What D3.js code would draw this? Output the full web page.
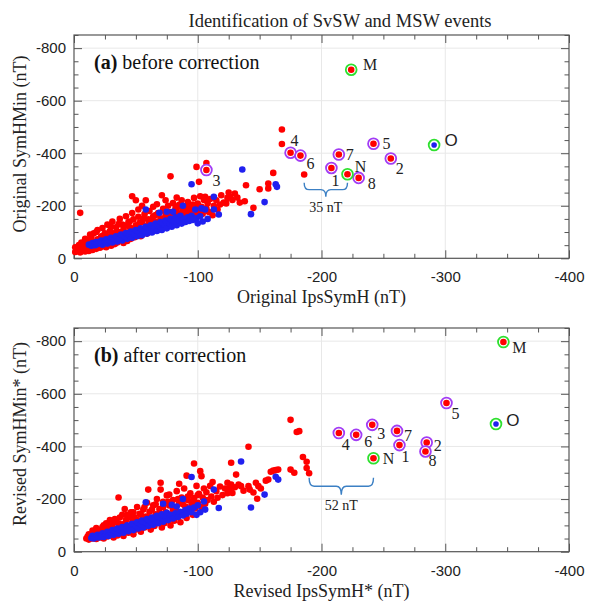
<!DOCTYPE html>
<html>
<head>
<meta charset="utf-8">
<script src="https://cdn.jsdelivr.net/npm/d3@7"></script>
<style>
  body { margin: 0; background: #fff; }
  svg { display: block; }
</style>
</head>
<body>
<svg id="chart" width="589" height="603"></svg>
<script>
// Tick labels
const xTicks = [0, -100, -200, -300, -400];
const yTicks = [0, -200, -400, -600, -800];

// Panel (a): all storms before correction, [IpsSymH, SymHMin]
const aRed = [
  [-1,-24],[-2,-32],[-1,-42],[-3,-28],[-4,-50],[-3,-36],[-5,-22],[-6,-44],[-5,-173],[-7,-30],
  [-8,-58],[-8,-38],[-9,-26],[-10,-48],[-11,-66],[-11,-34],[-12,-28],[-13,-56],[-14,-78],[-14,-40],
  [-15,-32],[-16,-62],[-16,-95],[-17,-46],[-18,-36],[-19,-72],[-19,-108],[-20,-52],[-21,-40],[-22,-84],
  [-22,-62],[-23,-115],[-24,-46],[-25,-95],[-25,-70],[-26,-42],[-27,-128],[-28,-56],[-28,-82],[-29,-104],
  [-30,-48],[-31,-66],[-31,-140],[-32,-92],[-33,-54],[-34,-118],[-34,-76],[-35,-60],[-36,-100],[-37,-150],
  [-37,-68],[-38,-86],[-39,-128],[-40,-58],[-40,-110],[-41,-76],[-42,-96],[-42,-160],[-43,-66],[-44,-138],
  [-45,-88],[-45,-118],[-46,-74],[-47,-236],[-47,-172],[-48,-104],[-48,-148],[-49,-80],[-50,-221],[-50,-126],
  [-51,-92],[-52,-186],[-52,-158],[-53,-112],[-54,-84],[-55,-138],[-55,-200],[-56,-98],[-57,-168],[-58,-221],
  [-58,-120],[-59,-94],[-60,-148],[-61,-180],[-61,-108],[-62,-130],[-63,-102],[-64,-196],[-64,-160],[-65,-118],
  [-66,-140],[-67,-206],[-67,-108],[-68,-172],[-69,-126],[-70,-152],[-71,-240],[-71,-118],[-72,-188],[-73,-136],
  [-74,-221],[-74,-164],[-75,-128],[-76,-200],[-77,-146],[-78,-312],[-78,-176],[-79,-138],[-80,-210],[-81,-156],
  [-82,-190],[-83,-231],[-83,-148],[-84,-172],[-85,-204],[-86,-160],[-87,-221],[-88,-182],[-89,-150],[-90,-196],
  [-91,-166],[-92,-214],[-93,-176],[-94,-160],[-95,-200],[-96,-186],[-97,-230],[-98,-170],[-99,-348],[-100,-208],
  [-101,-291],[-101,-180],[-102,-236],[-103,-196],[-104,-170],[-105,-222],[-106,-234],[-107,-363],[-107,-190],[-108,-210],
  [-109,-176],[-110,-226],[-112,-164],[-113,-200],[-115,-221],[-116,-186],[-118,-205],[-119,-240],[-121,-212],[-123,-209],
  [-124,-230],[-125,-250],[-126,-234],[-128,-222],[-130,-246],[-132,-231],[-134,-212],[-138,-217],[-139,-278],[-145,-192],
  [-150,-263],[-157,-266],[-157,-285],[-161,-325],[-168,-435],[-168,-490],[-186,-319],
  [-6,-60],[-9,-74],[-13,-90],[-18,-100],[-20,-70],[-24,-88],[-27,-76],[-30,-120],[-33,-96],[-36,-130],
  [-39,-100],[-42,-125],[-45,-140],[-49,-115],[-53,-135],[-56,-150],[-60,-128],[-63,-145],[-66,-165],[-70,-135],
  [-73,-180],[-77,-160],[-80,-170],[-84,-195],[-88,-165],[-92,-190],[-96,-205],[-100,-195]
];
const aBlue = [
  [-12,-52],[-14,-48],[-15,-58],[-17,-50],[-18,-62],[-19,-54],[-21,-58],[-22,-68],[-23,-52],[-25,-62],
  [-26,-72],[-27,-56],[-29,-66],[-30,-78],[-31,-60],[-33,-72],[-34,-84],[-35,-64],[-37,-76],[-38,-90],
  [-39,-68],[-41,-82],[-42,-96],[-43,-74],[-45,-88],[-46,-102],[-47,-78],[-49,-92],[-50,-108],[-51,-84],
  [-53,-98],[-54,-114],[-55,-88],[-57,-104],[-58,-186],[-58,-120],[-59,-94],[-61,-110],[-62,-126],[-63,-98],
  [-65,-116],[-66,-132],[-67,-104],[-69,-173],[-69,-122],[-70,-138],[-71,-108],[-73,-128],[-74,-144],[-75,-177],
  [-75,-114],[-77,-134],[-78,-150],[-79,-120],[-80,-177],[-81,-140],[-82,-156],[-83,-126],[-85,-146],[-86,-162],
  [-87,-132],[-88,-200],[-89,-150],[-90,-138],[-92,-156],[-93,-142],[-95,-282],[-95,-162],[-96,-146],[-98,-186],
  [-99,-152],[-100,-133],[-102,-160],[-103,-190],[-104,-140],[-106,-186],[-108,-150],[-113,-234],[-113,-186],[-117,-167],
  [-136,-338],[-143,-168],[-154,-214],[-163,-282],[-164,-272]
];

// Panel (b): all storms after correction
const bRed = [
  [-10,-50],[-11,-58],[-12,-46],[-13,-54],[-14,-64],[-15,-50],[-16,-72],[-17,-56],[-18,-48],[-19,-66],
  [-20,-82],[-21,-54],[-22,-62],[-23,-94],[-24,-50],[-25,-74],[-26,-108],[-27,-58],[-28,-86],[-29,-120],
  [-30,-64],[-31,-96],[-32,-54],[-33,-78],[-34,-112],[-35,-62],[-36,-206],[-36,-90],[-37,-130],[-38,-70],
  [-39,-104],[-40,-60],[-41,-162],[-41,-82],[-42,-120],[-43,-140],[-44,-72],[-45,-96],[-46,-150],[-47,-110],
  [-48,-66],[-49,-130],[-50,-84],[-51,-170],[-52,-100],[-53,-144],[-54,-76],[-55,-118],[-56,-160],[-57,-92],
  [-58,-134],[-59,-186],[-60,-236],[-60,-108],[-61,-152],[-62,-84],[-63,-124],[-64,-176],[-65,-98],[-66,-142],
  [-67,-200],[-68,-114],[-69,-162],[-70,-262],[-70,-236],[-71,-92],[-71,-132],[-72,-190],[-73,-108],[-74,-150],
  [-75,-214],[-76,-124],[-77,-176],[-77,-217],[-78,-100],[-79,-142],[-80,-196],[-81,-118],[-82,-162],[-83,-230],
  [-84,-134],[-85,-258],[-85,-184],[-86,-112],[-87,-206],[-88,-150],[-89,-240],[-90,-172],[-91,-289],[-91,-128],
  [-92,-196],[-93,-156],[-94,-222],[-95,-180],[-96,-140],[-97,-335],[-97,-204],[-98,-164],[-99,-250],[-100,-186],
  [-101,-220],[-102,-306],[-103,-287],[-103,-170],[-104,-206],[-105,-240],[-106,-182],[-107,-226],[-108,-196],[-110,-250],
  [-111,-210],[-112,-265],[-113,-190],[-115,-230],[-116,-205],[-118,-248],[-120,-215],[-122,-240],[-124,-222],[-124,-262],
  [-126,-242],[-127,-338],[-127,-255],[-128,-223],[-130,-245],[-131,-293],[-133,-255],[-135,-249],[-137,-232],[-141,-399],
  [-141,-249],[-142,-236],[-145,-225],[-147,-262],[-148,-201],[-149,-249],[-151,-240],[-155,-270],[-157,-274],[-159,-304],
  [-161,-308],[-163,-310],[-165,-312],[-175,-501],[-175,-312],[-178,-300],[-180,-455],[-182,-458],[-185,-360],[-188,-342],
  [-188,-318],[-190,-298],
  [-12,-66],[-15,-80],[-18,-90],[-21,-76],[-24,-100],[-27,-90],[-30,-110],[-33,-124],[-36,-108],[-39,-140],
  [-42,-100],[-45,-130],[-48,-150],[-51,-120],[-54,-140],[-57,-170],[-60,-130],[-63,-160],[-66,-180],[-69,-145],
  [-72,-170],[-76,-190],[-80,-160],[-84,-200],[-88,-180],[-92,-210],[-96,-190],[-100,-215]
];
const bBlue = [
  [-14,-52],[-15,-60],[-16,-50],[-18,-56],[-19,-64],[-20,-54],[-22,-60],[-23,-70],[-24,-56],[-26,-66],
  [-27,-76],[-28,-60],[-30,-70],[-31,-82],[-32,-64],[-34,-76],[-35,-88],[-36,-68],[-38,-80],[-39,-94],
  [-40,-72],[-42,-86],[-43,-100],[-44,-78],[-46,-92],[-47,-106],[-48,-82],[-50,-98],[-51,-112],[-52,-88],
  [-54,-104],[-55,-118],[-56,-92],[-58,-188],[-58,-110],[-59,-124],[-60,-98],[-62,-116],[-63,-130],[-64,-102],
  [-66,-122],[-67,-136],[-68,-108],[-70,-128],[-71,-142],[-72,-182],[-72,-114],[-74,-134],[-75,-148],[-76,-120],
  [-78,-140],[-79,-178],[-80,-126],[-82,-146],[-83,-172],[-84,-132],[-86,-152],[-88,-200],[-88,-138],[-90,-158],
  [-91,-144],[-93,-164],[-95,-284],[-95,-150],[-97,-168],[-99,-140],[-100,-176],[-102,-150],[-105,-191],[-106,-160],
  [-113,-236],[-117,-166],[-135,-343],[-143,-168],[-154,-217],[-163,-285],[-165,-274]
];

// Identified SvSW (1-8) and MSW (M, N, O) events
const eventIds = ['1', '2', '3', '4', '5', '6', '7', '8', 'M', 'N', 'O'];
const eventKind = ['SvSW', 'SvSW', 'SvSW', 'SvSW', 'SvSW', 'SvSW', 'SvSW', 'SvSW', 'MSW', 'MSW', 'MSW'];
const eventDot = ['red', 'red', 'red', 'red', 'red', 'red', 'red', 'red', 'red', 'red', 'blue'];
const aEventX = [-208, -256, -107, -175, -242, -183, -214, -230, -224, -221, -291];
const aEventY = [-344, -380, -336, -402, -436, -391, -395, -306, -718, -320, -431];
const bEventX = [-263, -285, -241, -214, -301, -228, -261, -284, -347, -242, -341];
const bEventY = [-405, -415, -482, -451, -565, -444, -459, -381, -797, -355, -485];

// Gap between the strongest unidentified storm and event N
const aGap = { from: -186, to: -221, at: -288, text: '35 nT' };
const bGap = { from: -190, to: -242, at: -281, text: '52 nT' };

// Label offsets in pixels (layout only)
const aLabelOffset = {
  '1': [4, 13], '2': [9, 10], '3': [10, 10], '4': [4, -12], '5': [13, 0], '6': [10, 8],
  '7': [11, 0], '8': [13, 6], 'M': [19, -5], 'N': [13, -8], 'O': [17, -5],
};
const bLabelOffset = {
  '1': [6, 11], '2': [11, 3], '3': [9, 9], '4': [7, 11], '5': [9, 10], '6': [12, 7],
  '7': [11, 5], '8': [7, 9], 'M': [16, 6], 'N': [15, 0], 'O': [17, -4],
};

const colors = { red: '#ff0000', blue: '#2020f0', SvSW: '#a23cf5', MSW: '#2ee02e', brace: '#3c80c4' };
const serif = '"Liberation Serif", "Times New Roman", serif';
const sans = '"Liberation Sans", Arial, sans-serif';

const svg = d3.select('#chart');
const margin = { left: 74, right: 569 };

function drawPanel(opt) {
  const x = d3.scaleLinear().domain([0, -400]).range([margin.left, margin.right]);
  const y = d3.scaleLinear().domain([0, -850]).range([opt.bottom, opt.top]);
  const g = svg.append('g');
  const h = opt.bottom - opt.top;
  const w = margin.right - margin.left;

  // Grid lines at major ticks
  g.selectAll('.vgrid').data(xTicks.slice(1, -1)).enter().append('line')
    .attr('x1', (d) => x(d)).attr('x2', (d) => x(d))
    .attr('y1', opt.top).attr('y2', opt.bottom)
    .attr('stroke', '#e8e8e8').attr('stroke-width', 1);
  g.selectAll('.hgrid').data(yTicks.slice(1)).enter().append('line')
    .attr('x1', margin.left).attr('x2', margin.right)
    .attr('y1', (d) => y(d)).attr('y2', (d) => y(d))
    .attr('stroke', '#e8e8e8').attr('stroke-width', 1);

  // Minor ticks (every 25 nT on x, 50 nT on y), all four sides, pointing in
  const xMinor = d3.range(0, -401, -25).filter((d) => d % 100 !== 0);
  const yMinor = d3.range(0, -851, -50).filter((d) => d % 200 !== 0);
  const noLabel = () => '';
  const axes = [
    [d3.axisBottom(x), `translate(0,${opt.bottom})`, xMinor],
    [d3.axisTop(x), `translate(0,${opt.top})`, xMinor],
    [d3.axisLeft(y), `translate(${margin.left},0)`, yMinor],
    [d3.axisRight(y), `translate(${margin.right},0)`, yMinor],
  ];
  axes.forEach(([ax, tr, vals]) => {
    g.append('g').attr('transform', tr)
      .call(ax.tickValues(vals).tickSize(-4.5).tickFormat(noLabel))
      .call((s) => s.select('.domain').remove())
      .selectAll('line').attr('stroke', '#555');
  });

  // Major ticks with labels on bottom and left
  g.append('g').attr('transform', `translate(0,${opt.bottom})`)
    .call(d3.axisBottom(x).tickValues(xTicks).tickSize(-8).tickPadding(13.5).tickFormat((d) => String(d)))
    .call((s) => s.select('.domain').remove())
    .call((s) => s.selectAll('line').attr('stroke', '#555'))
    .call((s) => s.selectAll('text').attr('fill', '#222').style('font', `15px ${sans}`));
  g.append('g').attr('transform', `translate(0,${opt.top})`)
    .call(d3.axisTop(x).tickValues(xTicks).tickSize(-8).tickFormat(noLabel))
    .call((s) => s.select('.domain').remove())
    .selectAll('line').attr('stroke', '#555');
  g.append('g').attr('transform', `translate(${margin.left},0)`)
    .call(d3.axisLeft(y).tickValues(yTicks).tickSize(-8).tickPadding(8).tickFormat((d) => String(d)))
    .call((s) => s.select('.domain').remove())
    .call((s) => s.selectAll('line').attr('stroke', '#555'))
    .call((s) => s.selectAll('text').attr('fill', '#222').style('font', `15px ${sans}`));
  g.append('g').attr('transform', `translate(${margin.right},0)`)
    .call(d3.axisRight(y).tickValues(yTicks).tickSize(-8).tickFormat(noLabel))
    .call((s) => s.select('.domain').remove())
    .selectAll('line').attr('stroke', '#555');

  // Box
  g.append('rect')
    .attr('x', margin.left).attr('y', opt.top)
    .attr('width', w).attr('height', h)
    .attr('fill', 'none').attr('stroke', '#555').attr('stroke-width', 1.2);

  // All storms: red first, blue on top
  g.append('g').selectAll('circle').data(opt.red).enter().append('circle')
    .attr('cx', (d) => x(d[0])).attr('cy', (d) => y(d[1])).attr('r', 3.3)
    .attr('fill', colors.red);
  g.append('g').selectAll('circle').data(opt.blue).enter().append('circle')
    .attr('cx', (d) => x(d[0])).attr('cy', (d) => y(d[1])).attr('r', 3.3)
    .attr('fill', colors.blue);

  // Identified events: ring + dot + label
  const events = eventIds.map((id, i) => ({
    id, kind: eventKind[i], dot: eventDot[i], x: opt.ex[i], y: opt.ey[i],
  }));
  const ev = g.append('g').selectAll('g').data(events).enter().append('g');
  ev.append('circle')
    .attr('cx', (d) => x(d.x)).attr('cy', (d) => y(d.y)).attr('r', 5.4)
    .attr('fill', '#fff').attr('stroke', (d) => colors[d.kind]).attr('stroke-width', 1.8);
  ev.append('circle')
    .attr('cx', (d) => x(d.x)).attr('cy', (d) => y(d.y)).attr('r', (d) => (d.dot === 'blue' ? 2.8 : 3.3))
    .attr('fill', (d) => colors[d.dot]);
  ev.append('text')
    .attr('x', (d) => x(d.x) + opt.offsets[d.id][0])
    .attr('y', (d) => y(d.y) + opt.offsets[d.id][1])
    .attr('text-anchor', 'middle').attr('dominant-baseline', 'central')
    .attr('fill', '#222')
    .style('font', (d) => (d.id === 'O' ? `17px ${sans}` : `16px ${serif}`))
    .text((d) => d.id);

  // Curly brace marking the gap
  const bx0 = x(opt.gap.from);
  const bx1 = x(opt.gap.to);
  const by = y(opt.gap.at);
  const bh = opt.braceH;
  const bm = (bx0 + bx1) / 2;
  const r = 5;
  const p = d3.path();
  p.moveTo(bx0, by);
  p.quadraticCurveTo(bx0, by + bh / 2, bx0 + r, by + bh / 2);
  p.lineTo(bm - r, by + bh / 2);
  p.quadraticCurveTo(bm, by + bh / 2, bm, by + bh);
  p.quadraticCurveTo(bm, by + bh / 2, bm + r, by + bh / 2);
  p.lineTo(bx1 - r, by + bh / 2);
  p.quadraticCurveTo(bx1, by + bh / 2, bx1, by);
  g.append('path').attr('d', p.toString())
    .attr('fill', 'none').attr('stroke', colors.brace).attr('stroke-width', 1.4);
  g.append('text')
    .attr('x', bm).attr('y', by + bh + 11)
    .attr('text-anchor', 'middle').attr('dominant-baseline', 'central')
    .attr('fill', '#222').style('font', `14px ${serif}`)
    .text(opt.gap.text);

  // Panel caption
  const cap = g.append('text')
    .attr('x', 94).attr('y', opt.top + 34)
    .attr('fill', '#111').style('font', `20px ${serif}`);
  cap.append('tspan').attr('font-weight', 'bold').text(opt.letter);
  cap.append('tspan').text(` ${opt.caption}`);

  // Axis titles
  g.append('text')
    .attr('x', (margin.left + margin.right) / 2).attr('y', opt.bottom + 39)
    .attr('text-anchor', 'middle').attr('dominant-baseline', 'central')
    .attr('fill', '#222').style('font', `18px ${serif}`)
    .text(opt.xTitle);
  g.append('text')
    .attr('transform', `translate(20,${opt.yTitleCenter}) rotate(-90)`)
    .attr('text-anchor', 'middle').attr('dominant-baseline', 'central')
    .attr('fill', '#222').style('font', `18px ${serif}`)
    .text(opt.yTitle);
}

// Figure title
svg.append('text')
  .attr('x', 340).attr('y', 27)
  .attr('text-anchor', 'middle')
  .attr('fill', '#222').style('font', `18.5px ${serif}`)
  .text('Identification of SvSW and MSW events');

drawPanel({
  top: 35, bottom: 258.3, red: aRed, blue: aBlue, ex: aEventX, ey: aEventY,
  offsets: aLabelOffset, gap: aGap, braceH: 14,
  letter: '(a)', caption: 'before correction',
  xTitle: 'Original IpsSymH (nT)', yTitle: 'Original SymHMin (nT)', yTitleCenter: 144,
});
drawPanel({
  top: 328, bottom: 551.7, red: bRed, blue: bBlue, ex: bEventX, ey: bEventY,
  offsets: bLabelOffset, gap: bGap, braceH: 17,
  letter: '(b)', caption: 'after correction',
  xTitle: 'Revised IpsSymH* (nT)', yTitle: 'Revised SymHMin* (nT)', yTitleCenter: 434,
});
</script>
</body>
</html>
